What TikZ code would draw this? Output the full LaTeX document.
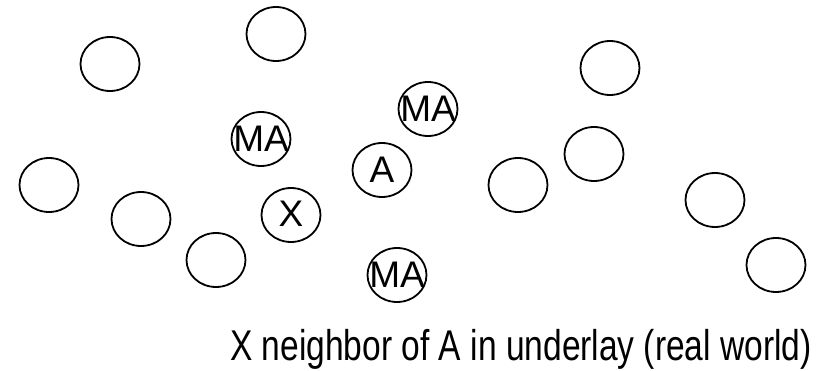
\documentclass[tikz,border=0pt]{standalone}
\usepackage{fontspec}
\setmainfont{Liberation Sans}
\usetikzlibrary{shapes.geometric}
\tikzset{peer/.style={ellipse,draw,line width=1.8pt,minimum width=59pt,minimum height=54pt,inner sep=0pt},
    tag/.style={font=\fontsize{37}{40}\selectfont,inner sep=0pt}}

\begin{document}
\begin{tikzpicture}[x=1pt,y=-1pt]
    \useasboundingbox (0,0) rectangle (823,370);
    % plain nodes of the underlay
    \foreach \x/\y [count=\i] in {110/64,276/34,49/185,141/219,216/260,518/185,594/154,610/68,715/200,776/265}
      \node[peer] (p\i) at (\x,\y) {};
    \node[peer,label={[tag]center:MA}] (ma1) at (261,139) {};
    \node[peer,label={[tag]center:MA}] (ma2) at (428,109) {};
    \node[peer,label={[tag]center:MA}] (ma3) at (397,275) {};
    \node[peer,label={[tag]center:A}] (a) at (382,170) {};
    \node[peer,label={[tag,yshift=1pt]center:X}] (x) at (291,215) {};
    \node[anchor=base,font=\fontsize{43}{48}\selectfont,xscale=0.78] (cap) at (521,360) {X neighbor of A in underlay (real world)};
\end{tikzpicture}
\end{document}
